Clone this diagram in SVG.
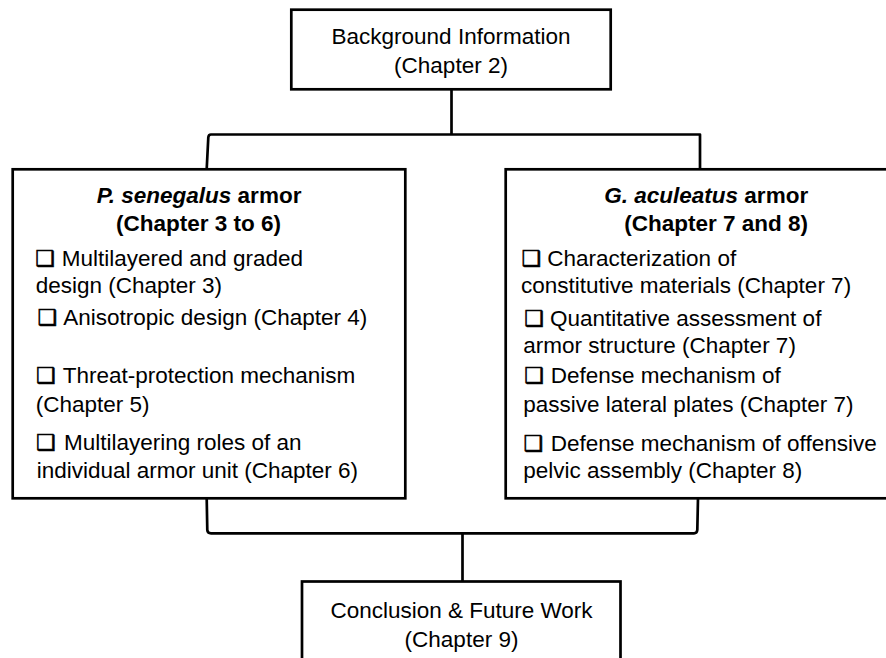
<svg xmlns="http://www.w3.org/2000/svg" width="886" height="658" viewBox="0 0 886 658">
<style>
.box{fill:#fff;stroke:#000;stroke-width:2.7}
.con{fill:none;stroke:#000;stroke-width:2.7;stroke-linejoin:round}
text{font-family:"Liberation Sans",Arial,sans-serif;font-size:22.5px;fill:#000}
.c{text-anchor:middle}
.b{font-weight:bold}
.i{font-style:italic}
.q{font-family:"DejaVu Sans",sans-serif;font-size:22px;stroke:#000;stroke-width:0.6}
</style>
<rect width="886" height="658" fill="#fff"/>
<g id="connectors">
<path class="con" d="M451.5,89.3 V134.5"/>
<path class="con" d="M700,169.3 V134.5 H211 Q208.5,134.5 208.3,137.5 L206.7,169.3"/>
<path class="con" d="M206.7,498.3 L207.3,530 Q207.5,533.3 211,533.3 H694 Q697,533.3 697.3,530 L698,498.3"/>
<path class="con" d="M462.5,533.3 V581.5"/>
</g>
<g id="background">
<rect class="box" x="291.3" y="9.7" width="319.4" height="79.6"/>
<text class="c" x="451" y="44">Background Information</text>
<text class="c" x="451" y="72.5">(Chapter 2)</text>
</g>
<g id="senegalus">
<rect class="box" x="12.7" y="169.3" width="392.6" height="329"/>
<text class="b" x="96.7" y="203.3"><tspan class="i">P. senegalus</tspan> armor</text>
<text class="b" x="116" y="231">(Chapter 3 to 6)</text>
<text y="266"><tspan class="q" x="35.5">❑</tspan><tspan x="61.7">Multilayered and graded</tspan></text>
<text x="35.7" y="293.3">design (Chapter 3)</text>
<text y="325"><tspan class="q" x="37.8">❑</tspan><tspan x="63.3">Anisotropic design (Chapter 4)</tspan></text>
<text y="382.7"><tspan class="q" x="36.2">❑</tspan><tspan x="62.7">Threat-protection mechanism</tspan></text>
<text x="35.7" y="411.7">(Chapter 5)</text>
<text y="450"><tspan class="q" x="36.2">❑</tspan><tspan x="64">Multilayering roles of an</tspan></text>
<text x="36.7" y="477.7">individual armor unit (Chapter 6)</text>
</g>
<g id="aculeatus">
<rect class="box" x="505.7" y="169.3" width="390" height="329"/>
<text class="b" x="604.3" y="203.3"><tspan class="i">G. aculeatus</tspan> armor</text>
<text class="b" x="624.3" y="231">(Chapter 7 and 8)</text>
<text y="266"><tspan class="q" x="521.8">❑</tspan><tspan x="547.3">Characterization of</tspan></text>
<text x="521" y="292.7">constitutive materials (Chapter 7)</text>
<text y="325.7"><tspan class="q" x="524.5">❑</tspan><tspan x="550">Quantitative assessment of</tspan></text>
<text x="523.3" y="352.7">armor structure (Chapter 7)</text>
<text y="383.3"><tspan class="q" x="524.5">❑</tspan><tspan x="550.7">Defense mechanism of</tspan></text>
<text x="523.3" y="411.7">passive lateral plates (Chapter 7)</text>
<text y="451"><tspan class="q" x="523.8">❑</tspan><tspan x="550.7">Defense mechanism of offensive</tspan></text>
<text x="523.3" y="478.3">pelvic assembly (Chapter 8)</text>
</g>
<g id="conclusion">
<rect class="box" x="302" y="581.5" width="318.5" height="90"/>
<text class="c" x="461.5" y="617.7">Conclusion &amp; Future Work</text>
<text class="c" x="461.5" y="647">(Chapter 9)</text>
</g>
</svg>
